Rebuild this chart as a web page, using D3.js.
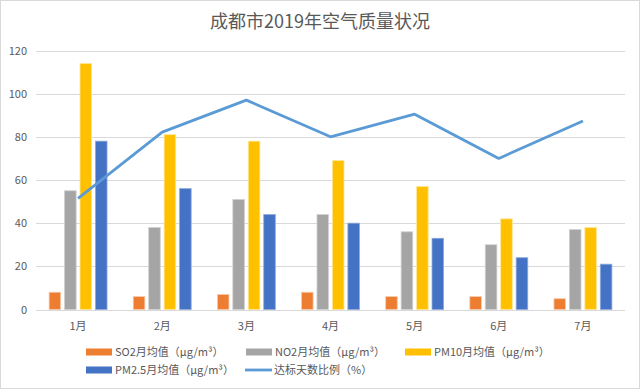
<!DOCTYPE html>
<html><head><meta charset="utf-8">
<script src="https://cdn.jsdelivr.net/npm/d3@7"></script>
<style>body{margin:0;background:#fff}svg{display:block}text{font-family:"Noto Sans CJK SC","Noto Sans",sans-serif}</style>
</head><body><svg id="c" width="640" height="389"></svg>
<script>
const months = ["1月","2月","3月","4月","5月","6月","7月"];
const so2 = [8,6,7,8,6,6,5];
const no2 = [55,38,51,44,36,30,37];
const pm10 = [114,81,78,69,57,42,38];
const pm25 = [78,56,44,40,33,24,21];
const rate = [51.5,82.2,97,80,90.5,70,87.3];
const yTicks = [0,20,40,60,80,100,120];
const seriesNames = ["SO2月均值（μg/m³）","NO2月均值（μg/m³）","PM10月均值（μg/m³）","PM2.5月均值（μg/m³）","达标天数比例（%）"];
const colors = ["#ED7D31","#A5A5A5","#FFC000","#4472C4","#5B9BD5"];
const borders = ["#F8CBAD","#D0D0D0","#FFE699","#8FAADC"];

const svg = d3.select("#c");
svg.append("rect").attr("x",0.5).attr("y",0.5).attr("width",639).attr("height",388)
  .attr("fill","#fff").attr("stroke","#D9D9D9");

const x = d3.scaleBand().domain(months).range([36,625]);
const y = d3.scaleLinear().domain([0,120]).range([309.5,50.5]);

svg.append("text").attr("x",320).attr("y",28).attr("text-anchor","middle")
  .attr("font-size",18).attr("fill","#595959").text("成都市2019年空气质量状况");

// grid
svg.append("g").selectAll("line").data(yTicks).join("line")
  .attr("x1",36).attr("x2",625).attr("y1",d=>Math.round(y(d))+0.5).attr("y2",d=>Math.round(y(d))+0.5)
  .attr("stroke","#D9D9D9").attr("stroke-width",1);

svg.append("g").selectAll("text").data(yTicks).join("text")
  .attr("x",27).attr("y",d=>y(d)+4).attr("text-anchor","end")
  .attr("font-size",11).attr("fill","#595959").text(d=>d);

svg.append("g").selectAll("text").data(months).join("text")
  .attr("x",d=>x(d)+x.bandwidth()/2).attr("y",330).attr("text-anchor","middle")
  .attr("font-size",11).attr("fill","#595959").text(d=>d);

const sub = d3.scaleBand().domain([0,1,2,3]).range([-30.2,30.2]).paddingInner(0.25).paddingOuter(0.08);
const barSeries = [so2,no2,pm10,pm25];
barSeries.forEach((arr,i)=>{
  svg.append("g").selectAll("rect").data(arr).join("rect")
    .attr("x",(d,j)=>x(months[j])+x.bandwidth()/2+sub(i))
    .attr("width",sub.bandwidth())
    .attr("y",d=>y(d)).attr("height",d=>y(0)-y(d))
    .attr("fill",colors[i]).attr("stroke",borders[i]).attr("stroke-width",0.8);
});

const line = d3.line().x((d,j)=>x(months[j])+x.bandwidth()/2).y(d=>y(d));
svg.append("path").datum(rate).attr("d",line).attr("fill","none")
  .attr("stroke",colors[4]).attr("stroke-width",2.8).attr("stroke-linejoin","round");

// legend
const leg = [
  {i:0,x:86,y:352},{i:1,x:246,y:352},{i:2,x:405,y:352},
  {i:3,x:86,y:370},{i:4,x:245,y:370}
];
const lg = svg.append("g");
leg.forEach(l=>{
  if(l.i<4){
    lg.append("rect").attr("x",l.x).attr("y",l.y-3.5).attr("width",26).attr("height",7).attr("fill",colors[l.i]);
  } else {
    lg.append("line").attr("x1",l.x).attr("x2",l.x+27).attr("y1",l.y).attr("y2",l.y)
      .attr("stroke",colors[4]).attr("stroke-width",2.8);
  }
  lg.append("text").attr("x",l.x+29).attr("y",l.y+4).attr("font-size",11).attr("fill","#595959").text(seriesNames[l.i]);
});
</script></body></html>
